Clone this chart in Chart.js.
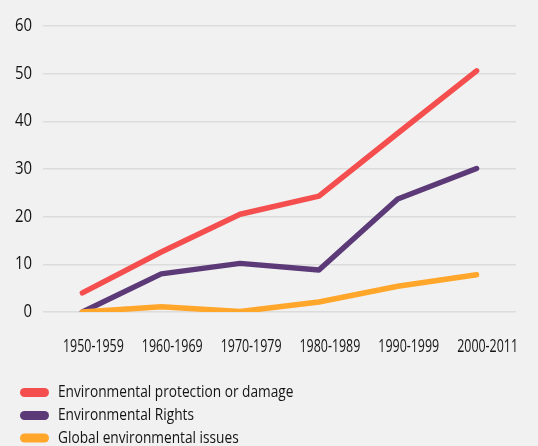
<!DOCTYPE html>
<html>
<head>
<meta charset="utf-8">
<script src="https://cdn.jsdelivr.net/npm/chart.js@4/dist/chart.umd.min.js"></script>
<style>
  html, body { margin: 0; padding: 0; background: #f1f1f1; }
  #wrap { width: 538px; height: 446px; }
</style>
</head>
<body>
<div id="wrap"><canvas id="decadeChart"></canvas></div>
<script>
const decades = ['1950-1959', '1960-1969', '1970-1979', '1980-1989', '1990-1999', '2000-2011'];
const protectionValues = [4.0, 12.6, 20.5, 24.3, 37.5, 50.6];
const rightsValues = [0, 8.0, 10.2, 8.8, 23.7, 30.1];
const globalValues = [0, 1.1, 0.1, 2.1, 5.4, 7.8];
const yTicks = [0, 10, 20, 30, 40, 50, 60];

const FONT = "'Open Sans', Roboto, sans-serif";
const TEXT = '#141414';
Chart.defaults.font.family = FONT;
Chart.defaults.color = TEXT;

// the original uses a condensed face, so text is squeezed horizontally
function squeezedText(ctx, text, x, y, align, size, sx) {
  ctx.save();
  ctx.font = size + 'px ' + FONT;
  ctx.fillStyle = TEXT;
  ctx.textAlign = align;
  ctx.textBaseline = 'middle';
  ctx.translate(x, y);
  ctx.scale(sx, 1);
  ctx.fillText(text, 0, 0);
  ctx.restore();
}

const condensedLabels = {
  id: 'condensedLabels',
  afterDraw(chart) {
    const ctx = chart.ctx;
    const xs = chart.scales.x;
    const ys = chart.scales.y;
    ys.ticks.forEach(t => {
      squeezedText(ctx, String(t.value), chart.chartArea.left - 11, ys.getPixelForValue(t.value), 'right', 18, 0.83);
    });
    xs.ticks.forEach((t, i) => {
      squeezedText(ctx, chart.data.labels[i], xs.getPixelForTick(i) + 11, chart.chartArea.bottom + 35.5, 'center', 17.5, 0.71);
    });
  }
};

// legend drawn as a stacked list under the axis
const stackedLegend = {
  id: 'stackedLegend',
  afterDraw(chart) {
    const ctx = chart.ctx;
    const rows = [392.5, 415.5, 438];
    chart.data.datasets.forEach((ds, i) => {
      const y = rows[i];
      ctx.save();
      ctx.strokeStyle = ds.borderColor;
      ctx.lineWidth = 9;
      ctx.lineCap = 'round';
      ctx.beginPath();
      ctx.moveTo(24.5, y);
      ctx.lineTo(44.5, y);
      ctx.stroke();
      ctx.restore();
      squeezedText(ctx, ds.label, 58, y, 'left', 16.5, 0.83);
    });
  }
};

function makeLine(label, data, color, order) {
  return {
    label: label,
    data: data,
    borderColor: color,
    backgroundColor: color,
    borderWidth: 5.5,
    borderCapStyle: 'round',
    borderJoinStyle: 'round',
    pointRadius: 0,
    tension: 0,
    fill: false,
    order: order
  };
}

new Chart(document.getElementById('decadeChart'), {
  type: 'line',
  data: {
    labels: decades,
    datasets: [
      makeLine('Environmental protection or damage', protectionValues, '#f54e4e', 1),
      makeLine('Environmental Rights', rightsValues, '#5c3a78', 2),
      makeLine('Global environmental issues', globalValues, '#ffa62b', 0)
    ]
  },
  options: {
    responsive: true,
    maintainAspectRatio: false,
    animation: false,
    layout: { padding: { top: 26, right: 22, bottom: 84, left: 0 } },
    plugins: { legend: { display: false }, tooltip: { enabled: false } },
    scales: {
      x: {
        offset: true,
        grid: { display: false, drawTicks: false },
        border: { display: false },
        ticks: { display: false, autoSkip: false },
        afterFit(scale) { scale.height = 50; }
      },
      y: {
        min: 0,
        max: 60,
        afterBuildTicks(scale) { scale.ticks = yTicks.map(v => ({ value: v })); },
        grid: { color: '#dcdcdc', lineWidth: 1.5, drawTicks: false },
        border: { display: false },
        ticks: { display: false },
        afterFit(scale) { scale.width = 43; }
      }
    }
  },
  plugins: [condensedLabels, stackedLegend]
});
</script>
</body>
</html>
